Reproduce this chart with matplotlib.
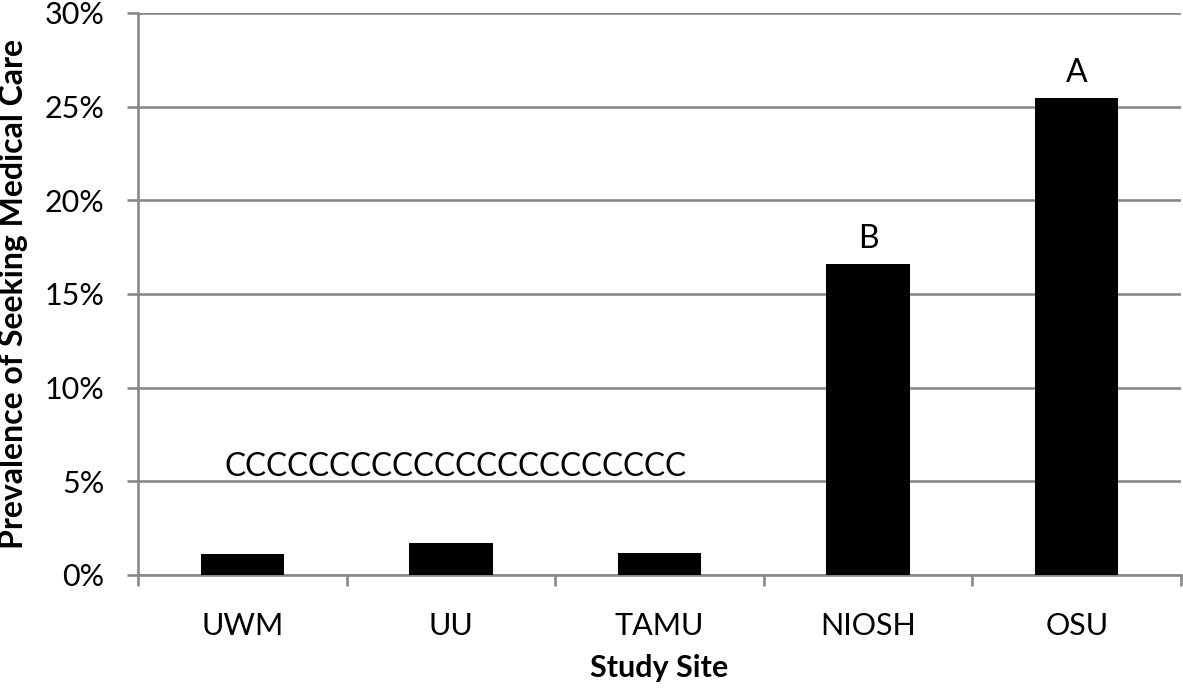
import matplotlib
matplotlib.use("Agg")
import matplotlib.pyplot as plt
from matplotlib.ticker import PercentFormatter, FixedLocator

# Data
sites = ["UWM", "UU", "TAMU", "NIOSH", "OSU"]
prevalence = [1.1, 1.7, 1.15, 16.6, 25.45]
letters = ["", "", "", "B", "A"]
shared_letters = "C" * 22

plt.rcParams['font.family'] = ['Lato', 'DejaVu Sans']
grey = "#898989"

fig = plt.figure(figsize=(11.83, 6.91), dpi=100)
ax = fig.add_axes([0.1167, 0.168, 0.8816, 0.8132])

x = range(len(sites))
ax.bar(x, prevalence, width=0.4, color="black", zorder=3)

# significance letters
for i, (v, lab) in enumerate(zip(prevalence, letters)):
    if lab:
        ax.annotate(lab, (i, v), xytext=(0, 7), textcoords="offset points",
                    ha="center", va="bottom", fontsize=23)
ax.text(1.02, 5.3, shared_letters, ha="center", va="baseline", fontsize=22.7)

ax.set_xlim(-0.5, len(sites) - 0.5)
ax.set_ylim(0, 30)
ax.set_yticks(range(0, 31, 5))
ax.yaxis.set_major_formatter(PercentFormatter(decimals=0))
ax.set_xticks(list(x))
ax.set_xticklabels(sites)
ax.xaxis.set_minor_locator(FixedLocator([i - 0.5 for i in range(len(sites) + 1)]))

ax.grid(axis="y", color=grey, linewidth=1.9, zorder=0)
for s in ["top", "right"]:
    ax.spines[s].set_visible(False)
for s in ["left", "bottom"]:
    ax.spines[s].set_color(grey)
    ax.spines[s].set_linewidth(1.9)

ax.tick_params(axis="y", length=8, width=1.9, color=grey, labelsize=22, pad=16)
ax.tick_params(axis="x", which="major", length=0, labelsize=22, pad=27)
ax.tick_params(axis="x", which="minor", length=8, width=1.9, color=grey)

ax.set_xlabel("Study Site", fontsize=22, fontweight="bold", labelpad=10)
ax.set_ylabel("Prevalence of Seeking Medical Care", fontsize=23, fontweight="bold", labelpad=12)

fig.savefig("out.png", dpi=100)
